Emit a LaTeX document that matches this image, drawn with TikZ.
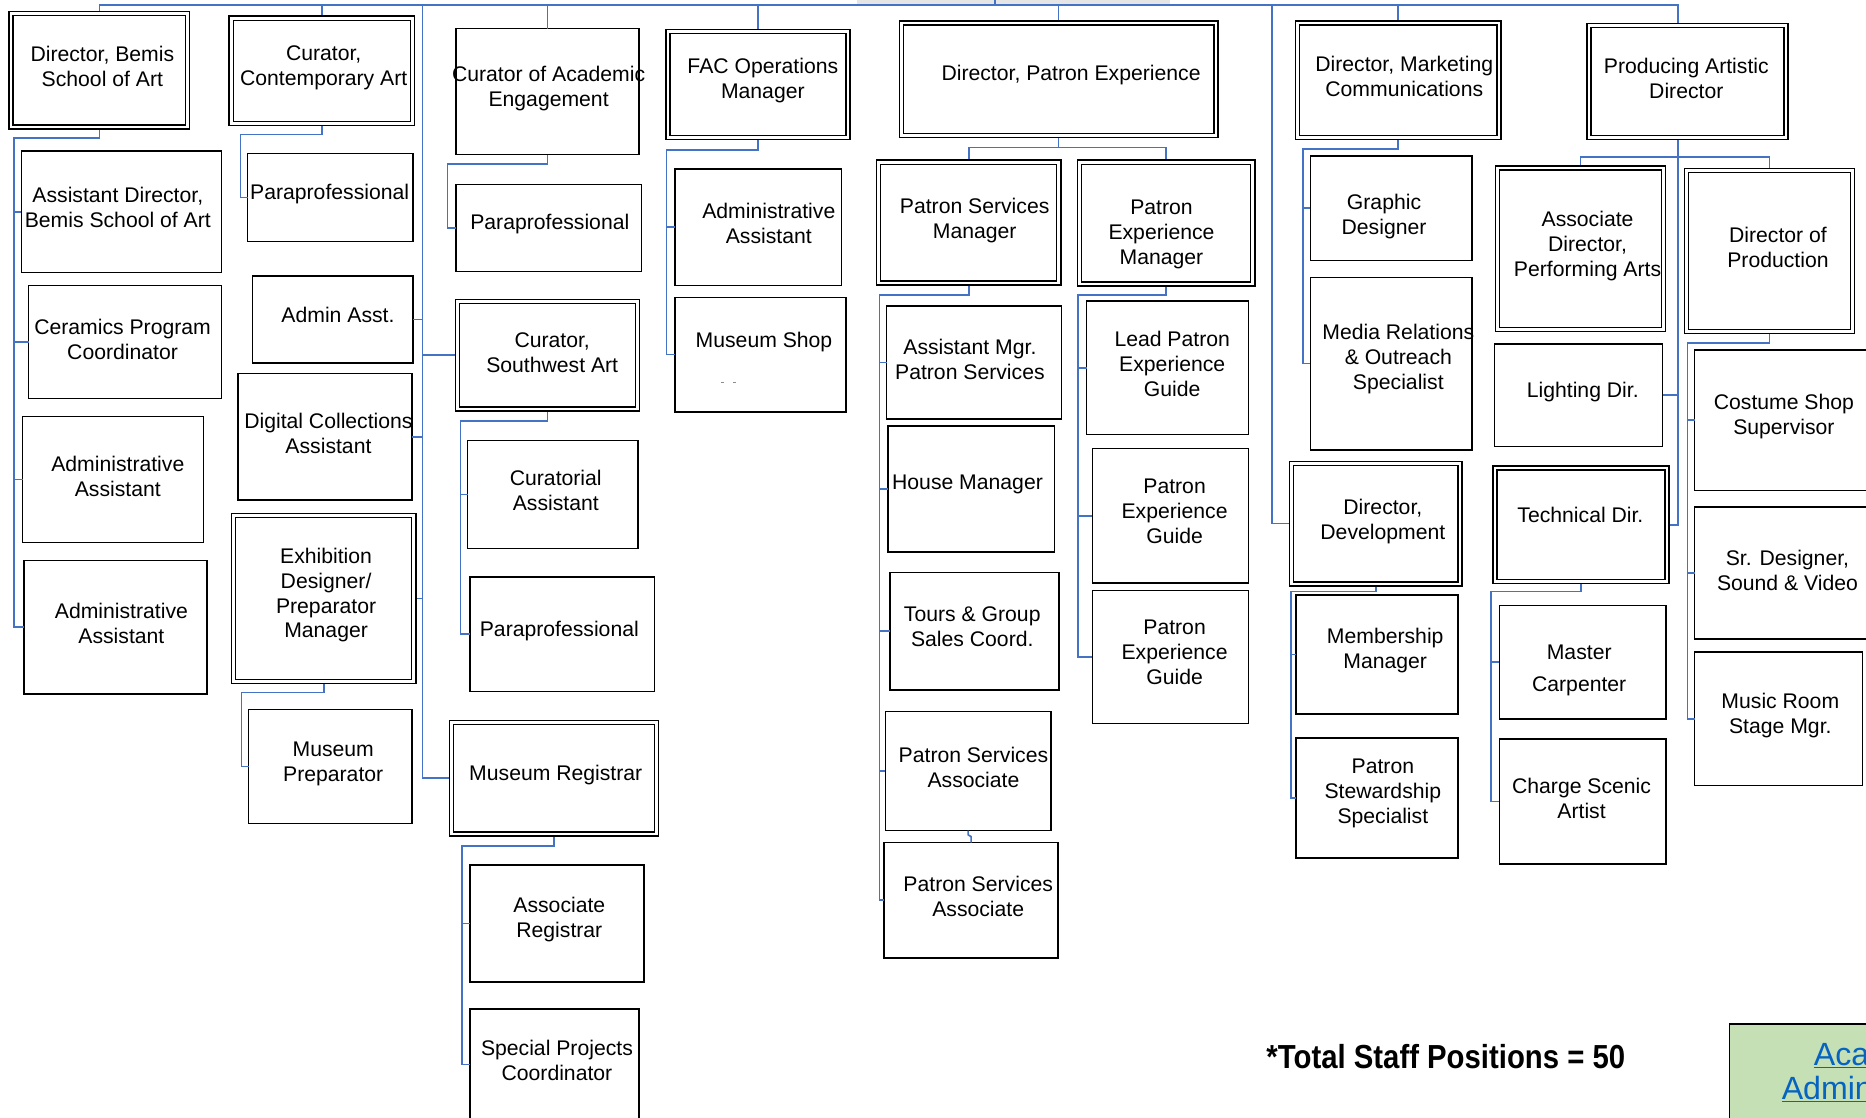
\documentclass[tikz,border=0pt]{standalone}
\usepackage{fontspec}
\setmainfont{Liberation Sans}
\usepackage{graphicx}
\definecolor{cblue}{HTML}{4472C4}
\definecolor{lgreen}{HTML}{C5E0B4}
\definecolor{lnk}{HTML}{0563C1}
\tikzset{
  sbox/.style={draw=black, line width=1.25pt, rectangle, inner sep=0pt, outer sep=0pt},
  dbox/.style={draw=black, line width=1.2pt, double=white, double distance=2.2pt, rectangle, inner sep=0pt, outer sep=2.3pt},
  txt/.style={align=center, inner sep=0pt, font=\fontsize{17.8}{21}\selectfont},
  conn/.style={draw=cblue, line width=1.4pt}
}
\newcommand\SB[8]{%
  \node[sbox, minimum width={#4-#2}, minimum height={#5-#3}] (#1) at ({(#2+#4)/2},{(#3+#5)/2}) {};
  \node[txt] (#1-t) at (#6,#7) {#8};}
\newcommand\DB[8]{%
  \node[dbox, minimum width={#4-#2-4.6}, minimum height={#5-#3-4.6}] (#1) at ({(#2+#4)/2},{(#3+#5)/2}) {};
  \node[txt] (#1-t) at (#6,#7) {#8};}
\begin{document}
\begin{tikzpicture}[x=1pt,y=-1pt]
\useasboundingbox (0,0) rectangle (1568,939);
\clip (0,0) rectangle (1568,939);
\fill[black!10] (720,0) rectangle (983,3);

% ---------- boxes ----------
\DB{dirBemis}{7}{9}{160}{109}{86}{56}{Director, Bemis\\School of Art}
\SB{asstDir}{18}{127}{186}{229}{99}{174}{Assistant Director,\\Bemis School of Art}
\SB{ceram}{24}{240}{186}{335}{103}{285}{Ceramics Program\\Coordinator}
\SB{admA}{19}{350}{171}{456}{99}{400}{Administrative\\Assistant}
\SB{admB}{20}{471}{174}{583}{102}{524}{Administrative\\Assistant}
\DB{curCon}{192}{13}{349}{106}{272}{57}{Curator,\\Contemporary Art}
\SB{paraA}{208}{129}{347}{203}{277}{163}{Paraprofessional}
\SB{admAsst}{212}{232}{347}{305}{284}{265}{Admin Asst.}
\SB{digi}{200}{314}{346}{420}{276}{364}{Digital Collections\\Assistant}
\DB{exhib}{194}{431}{350}{575}{274}{500}{Exhibition\\Designer/\\Preparator\\Manager}
\SB{musPrep}{209}{596}{346}{692}{280}{642}{Museum\\Preparator}
\SB{curAcad}{383}{24}{537}{130}{461}{74}{Curator of Academic\\Engagement}
\SB{paraB}{383}{155}{539}{228}{462}{188}{Paraprofessional}
\DB{curSW}{382}{251}{538}{346}{464}{296}{Curator,\\Southwest Art}
\SB{curat}{393}{370}{536}{461}{467}{412}{Curatorial\\Assistant}
\SB{paraC}{395}{485}{550}{581}{470}{530}{Paraprofessional}
\DB{musReg}{377}{605}{554}{703}{467}{651}{Museum Registrar}
\SB{assocReg}{395}{727}{541}{825}{470}{773}{Associate\\Registrar}
\SB{special}{395}{848}{537}{941}{468}{891}{Special Projects\\Coordinator}
\DB{facOps}{559}{24}{715}{118}{641}{68}{FAC Operations\\Manager}
\SB{admC}{567}{142}{707}{240}{646}{188}{Administrative\\Assistant}
\SB{shop}{567}{250}{711}{346}{642}{287}{Museum Shop}
\DB{dirPE}{755}{17}{1024}{116}{900}{63}{Director, Patron Experience}
\DB{psMgr}{736}{134}{892}{240}{819}{185}{Patron Services\\Manager}
\DB{pexMgr}{905}{134}{1055}{241}{976}{197}{Patron\\Experience\\Manager}
\SB{asstMgr}{745}{257}{892}{352}{815}{302}{Assistant Mgr.\\Patron Services}
\SB{house}{746}{358}{886}{464}{813}{407}{House Manager}
\SB{tours}{748}{481}{890}{580}{817}{527}{Tours \& Group\\Sales Coord.}
\SB{psaA}{744}{598}{883}{698}{818}{645}{Patron Services\\Associate}
\SB{psaB}{743}{708}{889}{805}{822}{753}{Patron Services\\Associate}
\SB{lead}{913}{253}{1049}{365}{985}{306}{Lead Patron\\Experience\\Guide}
\SB{guideA}{918}{377}{1049}{490}{987}{430}{Patron\\Experience\\Guide}
\SB{guideB}{918}{496}{1049}{608}{987}{548}{Patron\\Experience\\Guide}
\DB{dirMkt}{1088}{17}{1262}{118}{1180}{64}{Director, Marketing\\Communications}
\SB{graphic}{1101}{131}{1237}{219}{1163}{182}{Graphic\\Designer}
\SB{media}{1101}{233}{1237}{378}{1175}{302}{Media Relations\\\& Outreach\\Specialist}
\DB{dirDev}{1083}{387}{1229}{493}{1162}{438}{Director,\\Development}
\SB{member}{1089}{500}{1225}{600}{1164}{547}{Membership\\Manager}
\SB{steward}{1089}{620}{1225}{721}{1162}{667}{Patron\\Stewardship\\Specialist}
\DB{pad}{1333}{19}{1503}{118}{1417}{66}{Producing Artistic\\Director}
\DB{assocPA}{1256}{139}{1400}{279}{1334}{207}{Associate\\Director,\\Performing Arts}
\DB{dirProd}{1415}{141}{1559}{281}{1494}{208}{Director of\\Production}
\SB{light}{1256}{289}{1397}{375}{1330}{329}{Lighting Dir.}
\DB{tech}{1254}{391}{1403}{491}{1328}{433}{Technical Dir.}
\SB{carp}{1260}{509}{1400}{604}{1327}{563}{Master\\[6pt]Carpenter}
\SB{scenic}{1260}{621}{1400}{726}{1329}{671}{Charge Scenic\\Artist}
\SB{costume}{1424}{294}{1580}{412}{1499}{350}{Costume Shop\\Supervisor}
\SB{srDes}{1424}{426}{1580}{537}{1502}{479}{Sr. Designer,\\Sound \& Video}
\SB{music}{1424}{548}{1565}{660}{1496}{601}{Music Room\\Stage Mgr.}

\draw[black!45, line width=0.6pt] (606,321) -- (608.5,321) (616,321) -- (618.5,321);

% ---------- connectors ----------
\coordinate (topY) at (0,4);
\coordinate (rootTop) at (836,0);
\coordinate (lineM) at (355,4);
\coordinate (lineF) at (1069,4);
\coordinate (padX) at (1410,0);
\draw[conn] (rootTop) -- (rootTop |- topY);
\draw[conn] (dirBemis.north) -- (dirBemis.north |- topY) -- (padX |- topY) -- (padX |- pad.north);
\foreach \n in {curCon, curAcad, facOps, dirPE, dirMkt}
  \draw[conn] (\n.north) -- (\n.north |- topY);
\draw[conn] (lineM) |- (musReg.west);
\foreach \n in {admAsst, digi, exhib}
  \draw[conn] (\n.east) -- (\n.east -| lineM);
\draw[conn] (curSW.west) -- (curSW.west -| lineM);
\draw[conn] (lineF) |- (dirDev.west);

% Bemis
\coordinate (bemisL) at (12,116);
\draw[conn] (dirBemis.south) |- (bemisL) |- (admB.west);
\foreach \n in {asstDir, ceram, admA}
  \draw[conn] (\n.west) -- (\n.west -| bemisL);
% Contemporary
\coordinate (conL) at (202,113);
\draw[conn] (curCon.south) |- (conL) |- (paraA.west);
\coordinate (exL) at (203,582);
\draw[conn] (exhib.south) |- (exL) |- (musPrep.west);
% Academic
\coordinate (acL) at (376,138);
\draw[conn] (curAcad.south) |- (acL) |- (paraB.west);
\coordinate (swL) at (387,354);
\draw[conn] (curSW.south) |- (swL) |- (paraC.west);
\draw[conn] (curat.west) -- (curat.west -| swL);
\coordinate (regL) at (388,711);
\draw[conn] (musReg.south) |- (regL) |- (special.west);
\draw[conn] (assocReg.west) -- (assocReg.west -| regL);
% FAC
\coordinate (facL) at (560,126);
\draw[conn] (facOps.south) |- (facL) |- (shop.west);
\draw[conn] (admC.west) -- (admC.west -| facL);
% Patron experience
\coordinate (peY) at (0,124);
\draw[conn] (dirPE.south) -- (dirPE.south |- peY);
\draw[conn] (psMgr.north) |- (pexMgr.north |- peY) -- (pexMgr.north);
\coordinate (psL) at (739,248);
\draw[conn] (psMgr.south) |- (psL) |- (psaB.west);
\foreach \n in {asstMgr, house, tours, psaA}
  \draw[conn] (\n.west) -- (\n.west -| psL);
\draw[conn] (psaA.south) -- ++(0,3.5) -- ++(2.5,1.5) |- (psaB.north);
\coordinate (pxL) at (906,248);
\draw[conn] (pexMgr.south) |- (pxL) |- (guideB.west);
\foreach \n in {lead, guideA}
  \draw[conn] (\n.west) -- (\n.west -| pxL);
% Marketing / Development
\coordinate (mkL) at (1095,125);
\draw[conn] (dirMkt.south) |- (mkL) |- (media.west);
\draw[conn] (graphic.west) -- (graphic.west -| mkL);
\coordinate (devL) at (1085,497);
\draw[conn] (dirDev.south) |- (devL) |- (steward.west);
\draw[conn] (member.west) -- (member.west -| devL);
% Producing Artistic Director
\draw[conn] (padX |- pad.south) |- (tech.east);
\draw[conn] (light.east) -- (light.east -| padX);
\coordinate (padY) at (0,132);
\draw[conn] (assocPA.north) |- (dirProd.north |- padY) -- (dirProd.north);
\coordinate (prL) at (1418,288);
\draw[conn] (dirProd.south) |- (prL) |- (music.west);
\foreach \n in {costume, srDes}
  \draw[conn] (\n.west) -- (\n.west -| prL);
\coordinate (tdL) at (1253,497);
\draw[conn] (tech.south) |- (tdL) |- (scenic.west);
\draw[conn] (carp.west) -- (carp.west -| tdL);

% ---------- footer ----------
\node[anchor=base west, inner sep=0pt] (total) at (1064,898)
  {\scalebox{0.88}[1]{\fontsize{28}{30}\selectfont\bfseries *Total Staff Positions = 50}};
\node[draw=black, fill=lgreen, line width=1pt, inner sep=0pt, anchor=north west,
      minimum width=150, minimum height=100] (acadBox) at (1453,860) {};
\node[anchor=base west, inner sep=0pt, text=lnk, font=\fontsize{27}{30}\selectfont] (acadA) at (1524,895) {\underline{Aca}};
\node[anchor=base west, inner sep=0pt, text=lnk, font=\fontsize{27}{30}\selectfont] (acadB) at (1497,924) {\underline{Admin}};
\end{tikzpicture}
\end{document}
